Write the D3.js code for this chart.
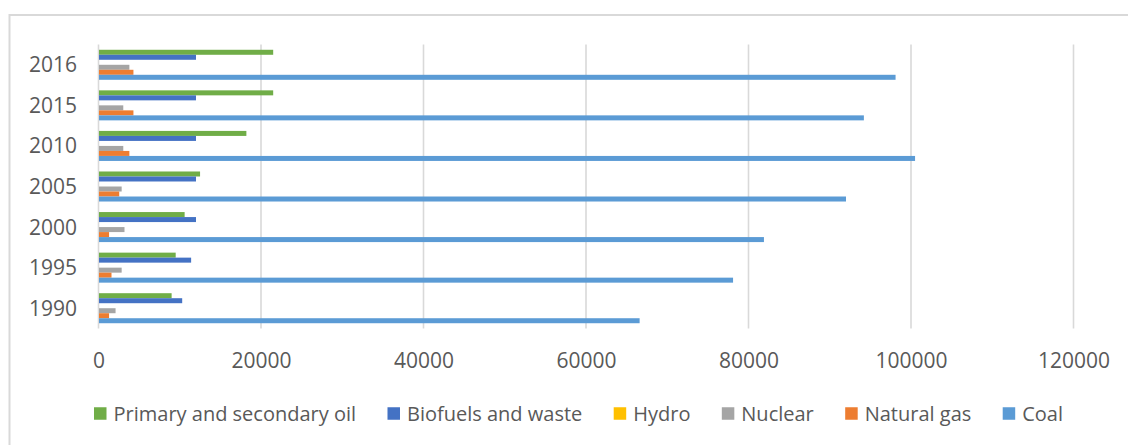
<!DOCTYPE html>
<html>
<head>
<meta charset="utf-8">
<script src="https://cdn.jsdelivr.net/npm/d3@7"></script>
<style>
  html, body { margin: 0; padding: 0; background: #ffffff; }
  svg { display: block; }
  text { font-family: "Open Sans", "Noto Sans", sans-serif; fill: #595959; }
</style>
</head>
<body>
<svg id="chart" width="1128" height="445"></svg>
<script>
// Years shown on the category axis (top to bottom)
const years = ["2016", "2015", "2010", "2005", "2000", "1995", "1990"];

// Series names, in legend order (also the top-to-bottom order inside each group)
const seriesNames = ["Primary and secondary oil", "Biofuels and waste", "Hydro", "Nuclear", "Natural gas", "Coal"];
const seriesColors = ["#70ad47", "#4472c4", "#ffc000", "#a5a5a5", "#ed7d31", "#5b9bd5"];

// Values per series, aligned with `years`
const oil      = [21500, 21500, 18200, 12500, 10600,  9500,  9000];
const biofuels = [12000, 12000, 12000, 12000, 12000, 11400, 10300];
const hydro    = [    0,     0,     0,     0,     0,     0,     0];
const nuclear  = [ 3800,  3050,  3050,  2850,  3200,  2850,  2100];
const gas      = [ 4300,  4300,  3800,  2550,  1300,  1600,  1300];
const coal     = [98100, 94200, 100500, 92000, 81900, 78100, 66600];

// Value axis ticks
const xTicks = [0, 20000, 40000, 60000, 80000, 100000, 120000];

const seriesValues = [oil, biofuels, hydro, nuclear, gas, coal];

const svg = d3.select("#chart");

// Outer chart frame
svg.append("rect")
  .attr("x", 9.5).attr("y", 15)
  .attr("width", 1300).attr("height", 600)
  .attr("fill", "#ffffff")
  .attr("stroke", "#d9d9d9")
  .attr("stroke-width", 2);

const plot = { left: 98.5, right: 1073.5, top: 44.5, bottom: 328.5 };

const x = d3.scaleLinear()
  .domain([0, 120000])
  .range([plot.left, plot.right]);

const y = d3.scaleBand()
  .domain(years)
  .range([plot.top, plot.bottom])
  .paddingInner(0.26)
  .paddingOuter(0.13);

const ySeries = d3.scaleBand()
  .domain(seriesNames)
  .range([0, y.bandwidth()])
  .padding(0);

// Vertical gridlines
svg.append("g")
  .selectAll("line")
  .data(xTicks)
  .join("line")
  .attr("x1", d => x(d)).attr("x2", d => x(d))
  .attr("y1", plot.top).attr("y2", plot.bottom)
  .attr("stroke", "#d9d9d9")
  .attr("stroke-width", 1.6);

// Bars
const groups = svg.append("g")
  .selectAll("g")
  .data(years)
  .join("g")
  .attr("transform", d => `translate(0,${y(d)})`);

groups.selectAll("rect")
  .data((yr, i) => seriesNames.map((name, s) => ({ name, value: seriesValues[s][i], color: seriesColors[s] })))
  .join("rect")
  .attr("x", x(0) + 0.5)
  .attr("y", d => ySeries(d.name))
  .attr("width", d => Math.max(0, x(d.value) - x(0) - 0.5))
  .attr("height", ySeries.bandwidth())
  .attr("fill", d => d.color);

// Category axis labels
const yAxis = d3.axisLeft(y).tickSize(0).tickPadding(0);
svg.append("g")
  .attr("transform", "translate(77,0)")
  .call(yAxis)
  .call(g => g.select(".domain").remove())
  .call(g => g.selectAll("text")
    .attr("font-family", "'Open Sans', 'Noto Sans', sans-serif")
    .attr("font-size", 21)
    .attr("fill", "#595959")
    .attr("dy", "0.36em"));

// Value axis labels
const xAxis = d3.axisBottom(x).tickValues(xTicks).tickSize(0).tickPadding(0).tickFormat(d3.format("d"));
svg.append("g")
  .attr("transform", "translate(0,360.5)")
  .call(xAxis)
  .call(g => g.select(".domain").remove())
  .call(g => g.selectAll("text")
    .attr("font-family", "'Open Sans', 'Noto Sans', sans-serif")
    .attr("font-size", 21)
    .attr("fill", "#595959")
    .attr("dy", "0.36em"));

// Legend
const legend = svg.append("g").attr("transform", "translate(0,413.5)");
const legendStart = 94, legendEnd = 1063;
const markerSize = 12.5, markerGap = 7;

const items = legend.selectAll("g")
  .data(seriesNames.map((n, i) => ({ name: n, color: seriesColors[i] })))
  .join("g");

items.append("rect")
  .attr("width", markerSize).attr("height", markerSize)
  .attr("y", -markerSize / 2)
  .attr("fill", d => d.color);

items.append("text")
  .attr("x", markerSize + markerGap)
  .attr("dy", "0.36em")
  .attr("font-size", 20)
  .text(d => d.name);

// Spread items evenly across the legend width
const widths = [];
items.each(function () {
  widths.push(markerSize + markerGap + d3.select(this).select("text").node().getComputedTextLength());
});
const totalItems = d3.sum(widths);
const gap = (legendEnd - legendStart - totalItems) / (widths.length - 1);
let cx = legendStart;
items.attr("transform", (d, i) => {
  const t = `translate(${cx},0)`;
  cx += widths[i] + gap;
  return t;
});
</script>
</body>
</html>
